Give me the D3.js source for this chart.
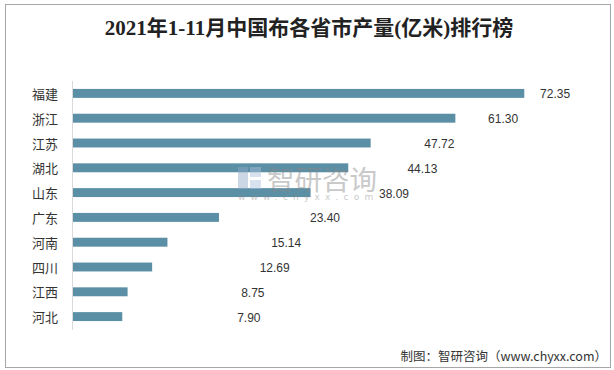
<!DOCTYPE html>
<html>
<head>
<meta charset="utf-8">
<script src="https://cdn.jsdelivr.net/npm/d3@7"></script>
<style>
  body { margin: 0; background: #fff; }
  svg { display: block; }
</style>
</head>
<body>
<svg width="614" height="370"></svg>
<script>
// donnees
var provinces = ["福建", "浙江", "江苏", "湖北", "山东", "广东", "河南", "四川", "江西", "河北"];
var valeurs = [72.35, 61.30, 47.72, 44.13, 38.09, 23.40, 15.14, 12.69, 8.75, 7.90];
var titre = "2021年1-11月中国布各省市产量(亿米)排行榜";
var source = "制图：智研咨询（www.chyxx.com）";

var svg = d3.select("svg");

// cadre
svg.append("rect")
  .attr("x", 5.5).attr("y", 4.5)
  .attr("width", 605).attr("height", 363)
  .attr("fill", "#fff")
  .attr("stroke", "#a6a6a6");

svg.append("text")
  .attr("x", 309).attr("y", 28)
  .attr("text-anchor", "middle")
  .attr("dominant-baseline", "central")
  .style("font-family", "'Liberation Serif', 'Noto Sans CJK SC'")
  .style("font-size", "21px")
  .style("font-weight", "600")
  .attr("fill", "#222")
  .text(titre);

var x = d3.scaleLinear().domain([0, 80]).range([73, 572]);
// les etiquettes ne sont pas collees au bout des barres dans l'original
var xLabel = d3.scaleLinear().domain([0, 80]).range([200, 576]);

var y = d3.scaleBand()
  .domain(provinces)
  .range([81, 329])
  .paddingInner(0.64)
  .paddingOuter(0.32);

var g = svg.append("g");

g.selectAll("rect.bar")
  .data(valeurs)
  .enter().append("rect")
  .attr("class", "bar")
  .attr("x", x(0))
  .attr("y", function(d, i) { return y(provinces[i]); })
  .attr("width", function(d) { return x(d) - x(0); })
  .attr("height", y.bandwidth())
  .attr("fill", "#5b8fa5");

// axe vertical
g.append("line")
  .attr("x1", 72.5).attr("x2", 72.5)
  .attr("y1", 81).attr("y2", 330)
  .attr("stroke", "#d9d9d9");

g.selectAll("text.cat")
  .data(provinces)
  .enter().append("text")
  .attr("class", "cat")
  .attr("x", 58)
  .attr("y", function(d) { return y(d) + y.bandwidth() / 2; })
  .attr("text-anchor", "end")
  .attr("dominant-baseline", "central")
  .style("font-family", "'Noto Sans CJK SC'")
  .style("font-size", "13px")
  .attr("fill", "#333")
  .text(function(d) { return d; });

// filigrane
var wm = svg.append("g").attr("opacity", 0.45);
wm.append("rect").attr("x", 238).attr("y", 167).attr("width", 10).attr("height", 22).attr("fill", "#8fa8c8");
wm.append("rect").attr("x", 250).attr("y", 167).attr("width", 11).attr("height", 10).attr("fill", "#a9c0dc");
wm.append("rect").attr("x", 250).attr("y", 180).attr("width", 11).attr("height", 9).attr("fill", "#a9c0dc");
wm.append("text")
  .attr("x", 267).attr("y", 178)
  .attr("dominant-baseline", "central")
  .style("font-family", "'Noto Sans CJK SC'")
  .style("font-size", "27.5px")
  .attr("fill", "#888")
  .text("智研咨询");
wm.append("text")
  .attr("x", 238).attr("y", 197)
  .attr("dominant-baseline", "central")
  .style("font-family", "'DejaVu Sans'")
  .style("font-size", "9px")
  .style("letter-spacing", "5.2px")
  .attr("fill", "#888")
  .text("www.chyxx.com");

g.selectAll("text.val")
  .data(valeurs)
  .enter().append("text")
  .attr("class", "val")
  .attr("x", function(d) { return xLabel(d); })
  .attr("y", function(d, i) { return y(provinces[i]) + y.bandwidth() / 2 + 1; })
  .attr("dominant-baseline", "central")
  .style("font-family", "'Liberation Sans'")
  .style("font-size", "12px")
  .attr("fill", "#333")
  .text(function(d) { return d.toFixed(2); });

svg.append("text")
  .attr("x", 607).attr("y", 355)
  .attr("text-anchor", "end")
  .attr("dominant-baseline", "central")
  .style("font-family", "'Noto Sans CJK SC'")
  .style("font-size", "12.5px")
  .attr("fill", "#333")
  .text(source);
</script>
</body>
</html>
